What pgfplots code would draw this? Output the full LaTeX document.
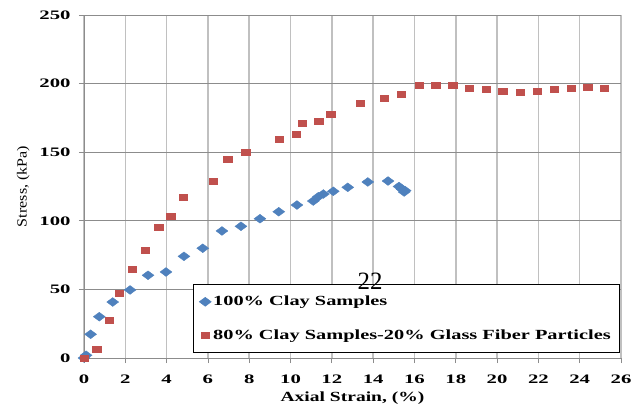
\documentclass[border=0pt]{standalone}
\usepackage{pgfplots}
\pgfplotsset{compat=1.18}
\usepackage{fontspec}
\setmainfont{Liberation Serif}
\newfontfamily\tickfont{Liberation Serif}[FakeStretch=1.6]
\newfontfamily\lblfont{Liberation Serif}[FakeStretch=1.4]
\newfontfamily\legfont{Liberation Serif}[FakeStretch=1.46]
\newfontfamily\ylfont{Liberation Serif}[FakeStretch=1.15]
\definecolor{cblue}{HTML}{4F81BD}
\definecolor{cred}{HTML}{C0504D}
\definecolor{gridh}{HTML}{8C8C8C}
\definecolor{gridv}{HTML}{C0C0C0}
\definecolor{axc}{HTML}{8C8C8C}
\begin{document}
\begin{tikzpicture}
\path[use as bounding box] (-84bp,-47bp) rectangle (557bp,358bp);
\begin{axis}[
  at={(0,0)}, anchor=south west,
  scale only axis, width=537bp, height=343bp,
  xmin=0, xmax=26, ymin=0, ymax=250,
  xtick={0,2,...,26}, ytick={0,50,...,250},
  axis lines=left, axis line style={-, draw=axc, line width=0.8bp},
  tick pos=left, tick align=outside,
  major tick length=5bp, tick style={draw=axc, line width=0.8bp},
  grid=major,
  x grid style={draw=gridv, line width=1.6bp},
  y grid style={draw=gridh, line width=0.8bp},
  /pgf/number format/assume math mode=true,
  ticklabel style={font=\tickfont\bfseries\fontsize{13}{13}\selectfont},
  yticklabel style={xshift=-5bp},
  xticklabel style={yshift=-8bp},
  xlabel={Axial Strain, (\%)},
  xlabel style={font=\lblfont\bfseries\fontsize{14}{14}\selectfont, yshift=-1.5bp},
  ylabel={Stress, (kPa)},
  ylabel style={font=\ylfont\fontsize{14}{14}\selectfont, yshift=3bp},
  legend style={at={(0.203,0.216)}, anchor=north west, draw=black, line width=0.6bp,
    fill=white, font=\legfont\bfseries\fontsize{14}{14}\selectfont,
    row sep=18bp, inner xsep=6bp, inner ysep=10bp},
  legend cell align=left,
  clip=false,
]
\addplot[only marks, mark=diamond*, mark size=4.4bp,
  mark options={fill=cblue, draw=cblue, xscale=1.8}] table {
x y
0.0 0
0.1 2
0.32 17.3
0.74 30.1
1.39 40.8
2.23 49.6
3.1 60.3
3.97 62.7
4.84 74.1
5.75 80
6.68 92.6
7.6 96
8.52 101.5
9.43 106.6
10.31 111.5
11.1 114.4
11.35 117.6
11.59 119.5
12.07 121.5
12.77 124.4
13.74 128.3
14.72 129
15.25 125
15.4 123
15.5 121
15.55 122
};
\addlegendentry{100\% Clay Samples}
\addplot[only marks, mark=square*, mark size=3bp,
  mark options={fill=cred, draw=cred, xscale=1.4}] table {
x y
0 0
0.61 6.6
1.23 27.7
1.69 46.9
2.32 64.9
2.97 78.7
3.61 95.2
4.2 103
4.81 117.3
6.26 128.8
6.96 144.6
7.83 150.1
9.46 159.6
10.27 163
10.56 171.3
11.36 172.5
11.94 177.6
13.38 185.9
14.54 189
15.35 192.6
16.22 198.5
17.03 198.5
17.85 199
18.66 196.6
19.47 195.8
20.28 194.6
21.13 193.4
21.95 194.6
22.78 195.8
23.58 196.6
24.39 197.7
25.2 196.6
};
\addlegendentry{80\% Clay Samples-20\% Glass Fiber Particles}
\coordinate (p22) at (axis cs:13.85,56);
\end{axis}
\node[font=\fontsize{25}{25}\selectfont, inner sep=0pt] at (p22) {22};
\end{tikzpicture}
\end{document}
